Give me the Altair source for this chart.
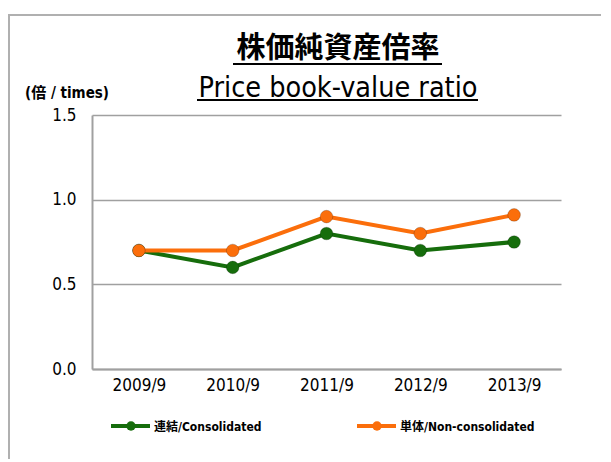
import altair as alt
import pandas as pd

years = ["2009/9", "2010/9", "2011/9", "2012/9", "2013/9"]
consolidated = [0.70, 0.60, 0.80, 0.70, 0.75]
non_consolidated = [0.70, 0.70, 0.90, 0.80, 0.91]
series_names = ["連結/Consolidated", "単体/Non-consolidated"]
colors = ["#166d0c", "#fb6e0b"]
y_ticks = [0.0, 0.5, 1.0, 1.5]

rows = []
for i, y in enumerate(years):
    rows.append({"year": y, "value": consolidated[i], "series": series_names[0]})
    rows.append({"year": y, "value": non_consolidated[i], "series": series_names[1]})
df = pd.DataFrame(rows)

FONT = "DejaVu Sans Condensed, Noto Sans CJK JP, sans-serif"
GRID = "#a0a0a0"

x_enc = alt.X("year:N", sort=years, scale=alt.Scale(paddingOuter=0.5, type="point"),
              axis=alt.Axis(title=None, labelAngle=0, labelFontSize=17, labelFont=FONT, labelColor="#000",
                            ticks=False, domainColor=GRID, domainWidth=2, labelPadding=8, grid=False))
y_enc = alt.Y("value:Q", scale=alt.Scale(domain=[0, 1.5], nice=False),
              axis=alt.Axis(title=None, values=y_ticks, format=".1f", labelFontSize=17, labelFont=FONT,
                            labelColor="#000", ticks=False, domainColor=GRID, domainWidth=2,
                            gridColor=GRID, gridWidth=1.5, labelPadding=16))
color_enc = alt.Color("series:N", scale=alt.Scale(domain=series_names, range=colors), legend=None)

base = alt.Chart(df)
lines = alt.layer(*[
    base.transform_filter(alt.datum.series == s).mark_line(strokeWidth=4).encode(x=x_enc, y=y_enc, color=color_enc)
    + base.transform_filter(alt.datum.series == s).mark_circle(size=160, opacity=1, stroke="#00000033", strokeWidth=1).encode(x=x_enc, y=y_enc, color=color_enc)
    for s in series_names
])

one = pd.DataFrame({"a": [0]})
def txt(text, x, y, size, bold=False, align="center", color="#000"):
    return alt.Chart(one).mark_text(text=text, fontSize=size, font=FONT, fontWeight="bold" if bold else "normal",
                                    align=align, baseline="alphabetic", color=color).encode(
        x=alt.value(x), y=alt.value(y))

def rule(x1, y1, x2, y2, color="#000", w=2):
    return alt.Chart(one).mark_rule(color=color, strokeWidth=w).encode(
        x=alt.value(x1), x2=alt.value(x2), y=alt.value(y1), y2=alt.value(y2))

deco = [
    # frame
    rule(-83, -100, -83, 360, "#b0b0b0", 2),
    rule(-84, -100, 520, -100, "#b0b0b0", 2),
    # titles
    txt("株価純資産倍率", 246, -57, 29, bold=True),
    rule(141, -51, 350, -51, "#000", 2),
    txt("Price book-value ratio", 246, -18, 28.5),
    rule(105, -15, 386, -15, "#000", 2),
    txt("(倍 / times)", -25, -17, 15, bold=True),
    # legend
    rule(19, 311, 58, 311, colors[0], 4),
    txt(series_names[0], 62, 316, 12, bold=True, align="left"),
    rule(265, 311, 304, 311, colors[1], 4),
    txt(series_names[1], 308, 316, 12, bold=True, align="left"),
]
leg_pts = [
    alt.Chart(one).mark_circle(size=90, opacity=1, color=colors[0]).encode(x=alt.value(39), y=alt.value(311)),
    alt.Chart(one).mark_circle(size=90, opacity=1, color=colors[1]).encode(x=alt.value(285), y=alt.value(311)),
]

chart = alt.layer(lines, *deco, *leg_pts).properties(
    width=469, height=254,
    autosize=alt.AutoSizeParams(type="none"),
    padding={"left": 84, "top": 107, "right": 40, "bottom": 90},
    background="white",
).configure_view(stroke=None)

chart.save("out.html", embed_options={"renderer": "svg", "actions": False})
